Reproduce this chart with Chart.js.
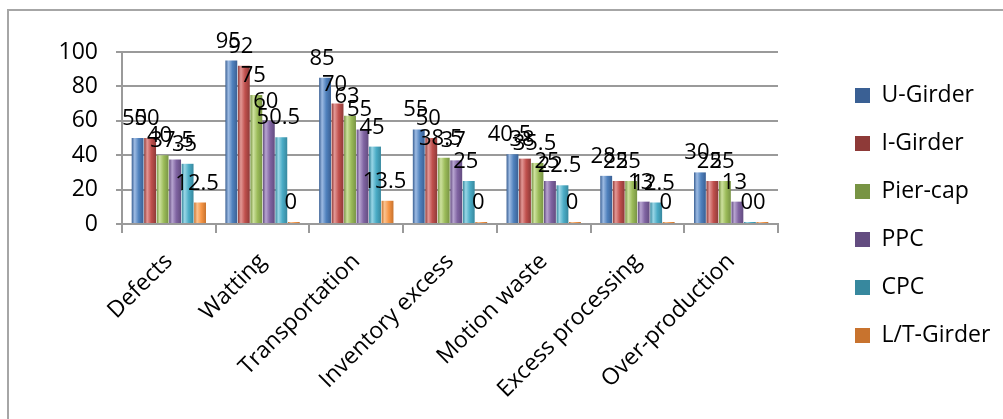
<!DOCTYPE html>
<html>
<head>
<meta charset="utf-8">
<script src="https://cdn.jsdelivr.net/npm/chart.js@4/dist/chart.umd.min.js"></script>
<style>
  body { margin: 0; background: #fff; }
  #wrap { position: relative; width: 1003px; height: 419px; overflow: hidden; }
  #frame { position: absolute; left: 7px; top: 9px; width: 1100px; height: 500px; border: 2px solid #a6a6a6; }
  #myChart { position: absolute; left: 0; top: 0; }
</style>
</head>
<body>
<div id="wrap">
  <div id="frame"></div>
  <canvas id="myChart" width="1003" height="419"></canvas>
</div>
<script>
// categories and series
const categories = ['Defects', 'Watting', 'Transportation', 'Inventory excess', 'Motion waste', 'Excess processing', 'Over-production']
const seriesNames = ['U-Girder', 'I-Girder', 'Pier-cap', 'PPC', 'CPC', 'L/T-Girder']
const uGirder = [50, 95, 85, 55, 40.5, 28, 30]
const iGirder = [50, 92, 70, 50, 38, 25, 25]
const pierCap = [40, 75, 63, 38.5, 35.5, 25, 25]
const ppc = [37.5, 60, 55, 37, 25, 13, 13]
const cpc = [35, 50.5, 45, 25, 22.5, 12.5, 0]
const ltGirder = [12.5, 0, 13.5, 0, 0, 0, 0]
const yTicks = [0, 20, 40, 60, 80, 100]

const seriesValues = [uGirder, iGirder, pierCap, ppc, cpc, ltGirder]
// legend colour, mid, light, dark (for the cylinder shading)
const palette = [
  ['#4672A8', '#4F81BD', '#9DBBE3', '#3A6094'],
  ['#AA4643', '#C0504D', '#E39896', '#8E3A38'],
  ['#89A54E', '#9BBB59', '#CDE19E', '#789444'],
  ['#71588F', '#8064A2', '#B7A4D0', '#634C80'],
  ['#4198AF', '#4BACC6', '#99D6E6', '#37889E'],
  ['#DB843D', '#F79646', '#FBC28F', '#C8732E']
]
const catPct = 0.8
const barPct = 0.95

function barFill(ctx) {
  const c = palette[ctx.datasetIndex]
  if (ctx.type !== 'data') return c[0]
  const chart = ctx.chart
  const xs = chart.scales.x
  if (!xs || !chart.chartArea) return c[1]
  const cw = xs.width / categories.length
  const slot = cw * catPct / seriesNames.length
  const left = xs.getPixelForValue(ctx.dataIndex) - cw * catPct / 2 + ctx.datasetIndex * slot + slot * (1 - barPct) / 2
  const g = chart.ctx.createLinearGradient(left, 0, left + slot * barPct, 0)
  g.addColorStop(0, c[3])
  g.addColorStop(0.25, c[2])
  g.addColorStop(0.6, c[1])
  g.addColorStop(1, c[3])
  return g
}

const datasets = seriesNames.map((name, i) => ({
  label: name,
  data: seriesValues[i],
  backgroundColor: barFill,
  borderWidth: 0,
  minBarLength: 2,
  categoryPercentage: catPct,
  barPercentage: barPct
}))

// value labels above each bar, like the spreadsheet data labels
const valueLabels = {
  id: 'valueLabels',
  afterDatasetsDraw(chart) {
    const ctx = chart.ctx
    ctx.save()
    ctx.font = '22px "Open Sans"'
    ctx.fillStyle = '#000'
    ctx.textAlign = 'center'
    ctx.textBaseline = 'alphabetic'
    chart.data.datasets.forEach((ds, i) => {
      chart.getDatasetMeta(i).data.forEach((bar, j) => {
        ctx.fillText(String(ds.data[j]), bar.x - 3, bar.y - 13)
      })
    })
    ctx.restore()
  }
}

const gridGrey = '#9a9a9a'

const myChart = new Chart(document.getElementById('myChart').getContext('2d'), {
  type: 'bar',
  data: { labels: categories, datasets: datasets },
  plugins: [valueLabels],
  options: {
    responsive: false,
    animation: false,
    layout: { padding: { top: 52, right: 7, left: 0, bottom: 0 } },
    plugins: {
      tooltip: { enabled: false },
      legend: {
        position: 'right',
        align: 'start',
        title: { display: true, text: '', font: { size: 1 }, padding: 2.9 },
        labels: {
          boxWidth: 15,
          boxHeight: 15,
          padding: 25,
          color: '#000',
          font: { family: 'Open Sans', size: 23 }
        }
      }
    },
    scales: {
      x: {
        grid: { display: true, drawOnChartArea: false, color: gridGrey, lineWidth: 2, tickLength: 9 },
        border: { color: gridGrey, width: 2 },
        ticks: {
          color: '#000',
          font: { family: 'Open Sans', size: 23 },
          minRotation: 45,
          maxRotation: 45,
          autoSkip: false,
          padding: 15
        },
        afterFit(s) { s.height = 195 }
      },
      y: {
        min: 0,
        max: 100,
        afterBuildTicks(s) { s.ticks = yTicks.map(v => ({ value: v })) },
        grid: { color: gridGrey, lineWidth: 2, tickLength: 6 },
        border: { color: gridGrey, width: 2 },
        ticks: {
          color: '#000',
          font: { family: 'Open Sans', size: 23 },
          padding: 18
        },
        afterFit(s) { s.width = 122 }
      },
      // empty space between the plot and the legend
      gap: {
        type: 'linear',
        position: 'right',
        display: true,
        grid: { display: false },
        border: { display: false },
        ticks: { display: false },
        afterFit(s) { s.width = 52 }
      }
    }
  }
})
</script>
</body>
</html>
